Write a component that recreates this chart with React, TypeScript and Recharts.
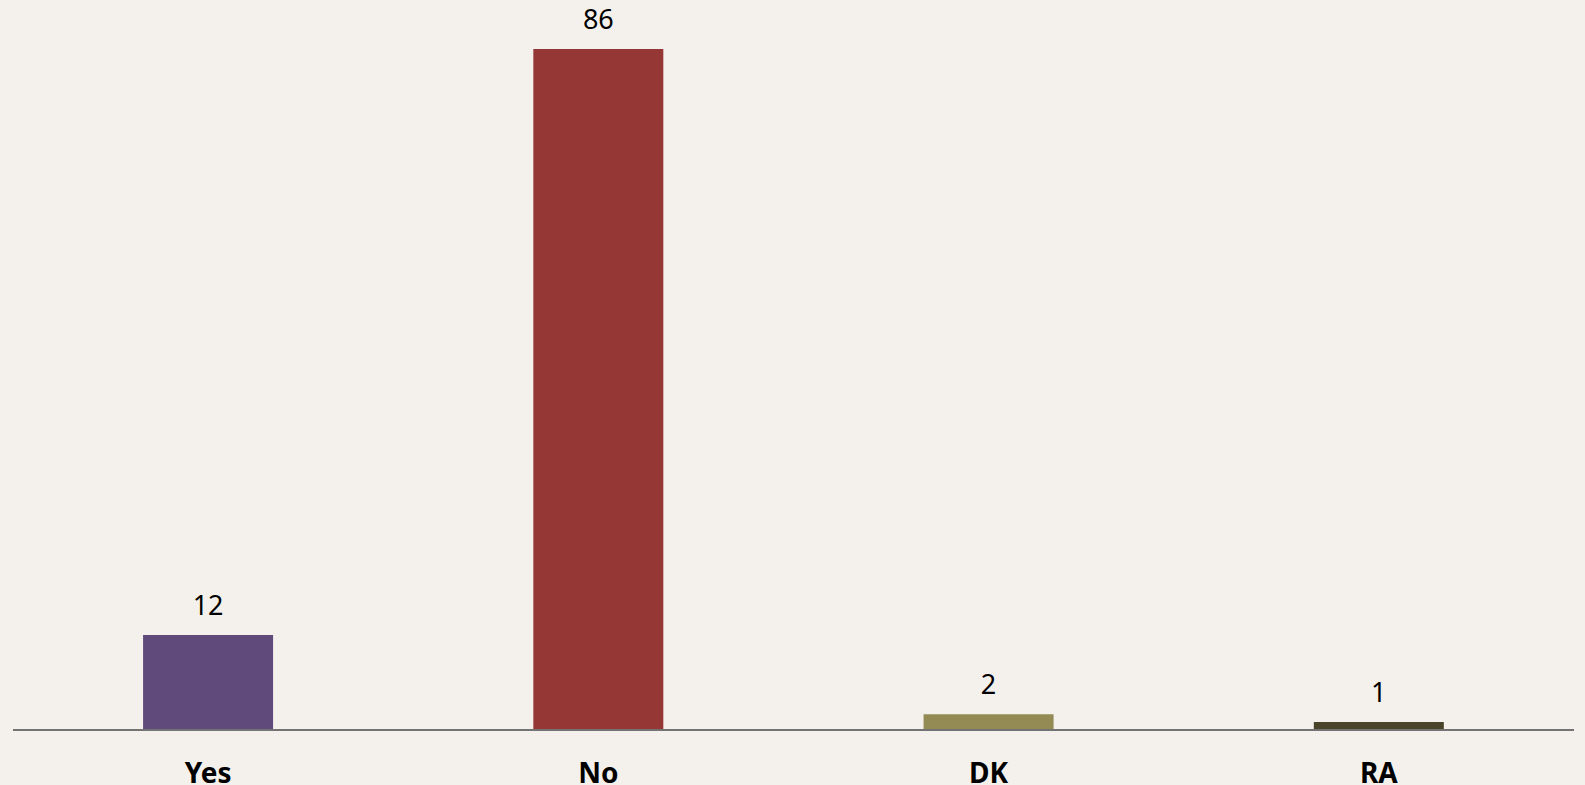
import { Bar, BarChart, Cell, LabelList, XAxis, YAxis } from "recharts";

const categories = ["Yes", "No", "DK", "RA"];
const counts = [12, 86, 2, 1];
const barColors = ["#604A7B", "#953735", "#948A54", "#4A452A"];

const data = categories.map((name, i) => ({ name, value: counts[i] }));

const FONT = "'Noto Sans', 'Open Sans', sans-serif";

export default function App() {
  return (
    <div
      style={{
        position: "absolute",
        left: 0,
        top: 0,
        width: 1585,
        height: 785,
        background: "#F4F1EC",
        overflow: "hidden",
      }}
    >
      <BarChart
        width={1585}
        height={785}
        data={data}
        margin={{ top: 49, right: 11, left: 13, bottom: 0 }}
        barCategoryGap="33.33%"
      >
        <XAxis
          dataKey="name"
          height={55}
          axisLine={{ stroke: "#737373", strokeWidth: 2 }}
          tickLine={false}
          tickSize={0}
          tickMargin={33}
          tick={{ fill: "#000", fontSize: 28, fontWeight: 700, fontFamily: FONT }}
        />
        <YAxis hide domain={[0, 86]} />
        <Bar dataKey="value" isAnimationActive={false}>
          {data.map((d, i) => (
            <Cell key={d.name} fill={barColors[i]} />
          ))}
          <LabelList
            dataKey="value"
            position="top"
            offset={20}
            fill="#000"
            fontSize={27}
            fontFamily={FONT}
          />
        </Bar>
      </BarChart>
    </div>
  );
}
